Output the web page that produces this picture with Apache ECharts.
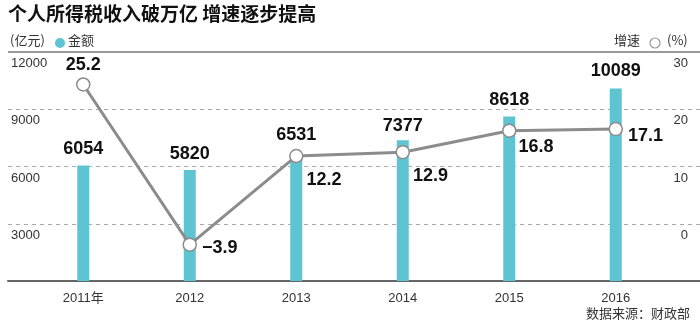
<!DOCTYPE html>
<html><head><meta charset="utf-8">
<script src="https://cdn.jsdelivr.net/npm/echarts@6/dist/echarts.min.js"></script>
<style>html,body{margin:0;padding:0;background:#fff}#c{width:700px;height:325px}</style>
</head><body><div id="c"></div>
<script>
const years = ['2011年','2012','2013','2014','2015','2016'];
const amount = [6054, 5820, 6531, 7377, 8618, 10089];
const growth = [25.2, -3.9, 12.2, 12.9, 16.8, 17.1];
const leftTicks = [0, 3000, 6000, 9000, 12000];
const rightTicks = [-10, 0, 10, 20, 30];

const FONT = 'Liberation Sans, Arial, "Noto Sans CJK SC", sans-serif';
const CJK = '"Noto Sans CJK SC", sans-serif';
const lineLabelCfg = [
  {position:'top', distance:3, offset:[0,0]},
  {position:'right', distance:5, offset:[0,3]},
  {position:'right', distance:3, offset:[0,24]},
  {position:'right', distance:3, offset:[0,24]},
  {position:'right', distance:2, offset:[0,16]},
  {position:'right', distance:5, offset:[0,7]}
];
const barLabelDist = [7, 7, 12, 5, 8, 8];
const chart = echarts.init(document.getElementById('c'));
chart.setOption({
  animation:false,
  textStyle:{fontFamily:FONT},
  grid:[
    {left:8, right:0, top:52, bottom:44},
    {left:30, right:31, top:52, bottom:44}
  ],
  xAxis:[
    {gridIndex:0, type:'value', min:0, max:1, axisLine:{show:true, onZero:false, lineStyle:{color:'#666', width:2}},
     axisTick:{show:false}, axisLabel:{show:false}, splitLine:{show:false}},
    {gridIndex:1, type:'category', data:years, axisLine:{show:false}, axisTick:{show:false},
     axisLabel:{color:'#333', fontSize:13, margin:11, fontFamily:FONT}}
  ],
  yAxis:[
    {gridIndex:0, type:'value', min:leftTicks[0], max:leftTicks[leftTicks.length-1], interval:3000,
     axisLine:{show:false}, axisTick:{show:false},
     splitLine:{show:true, lineStyle:{color:'#aaa', type:[4,4], width:1}},
     axisLabel:{inside:true, margin:3, color:'#333', fontSize:13, verticalAlign:'top', padding:[5,0,0,0],
       formatter:v=> v===0 ? '' : String(v)}},
    {gridIndex:0, type:'value', position:'right', min:rightTicks[0], max:rightTicks[rightTicks.length-1], interval:10,
     axisLine:{show:false}, axisTick:{show:false}, splitLine:{show:false},
     axisLabel:{inside:true, margin:12, color:'#333', fontSize:13, verticalAlign:'top', padding:[5,0,0,0],
       formatter:v=> v===-10 ? '' : String(v)}},
    {gridIndex:1, type:'value', min:0, max:12000, show:false},
    {gridIndex:1, type:'value', min:-10.5, max:31.1, show:false}
  ],
  series:[
    {type:'bar', xAxisIndex:1, yAxisIndex:2, barWidth:12,
     data: amount.map((v,i)=>({value:v, label:{distance:barLabelDist[i]}})),
     itemStyle:{color:'#5EC4D1'},
     label:{show:true, position:'top', color:'#111', fontSize:18, fontWeight:'bold', fontFamily:FONT}},
    {type:'line', xAxisIndex:1, yAxisIndex:3, z:5,
     data: growth.map((v,i)=>({value:v, label:{...lineLabelCfg[i]}})),
     lineStyle:{color:'#8c8c8c', width:3},
     symbol:'circle', symbolSize:13,
     itemStyle:{color:'#fff', borderColor:'#8c8c8c', borderWidth:1.5},
     label:{show:true, color:'#111', fontSize:18, fontWeight:'bold', fontFamily:FONT,
       formatter:p=> p.value<0 ? '\u2212'+Math.abs(p.value) : String(p.value)}}
  ],
  graphic:[
    {type:'text', left:8, top:4, style:{text:'个人所得税收入破万亿 增速逐步提高', font:'bold 19px '+CJK, fill:'#111'}},
    {type:'text', left:10, top:34, style:{text:'(亿元)', font:'13px '+CJK, fill:'#333'}},
    {type:'circle', shape:{cx:60, cy:43, r:5}, style:{fill:'#5EC4D1'}},
    {type:'text', left:68, top:34, style:{text:'金额', font:'13px '+CJK, fill:'#333'}},
    {type:'text', left:614, top:34, style:{text:'增速', font:'13px '+CJK, fill:'#333'}},
    {type:'circle', shape:{cx:655, cy:43, r:5}, style:{fill:'#fff', stroke:'#999', lineWidth:1.2}},
    {type:'text', left:667, top:34, style:{text:'(%)', font:'13px '+CJK, fill:'#333'}},
    {type:'line', shape:{x1:8, y1:52, x2:700, y2:52}, style:{stroke:'#999', lineWidth:2}, z:10},
    {type:'text', right:10, top:307, style:{text:'数据来源：财政部', font:'13px '+CJK, fill:'#333'}}
  ]
});
</script></body></html>
